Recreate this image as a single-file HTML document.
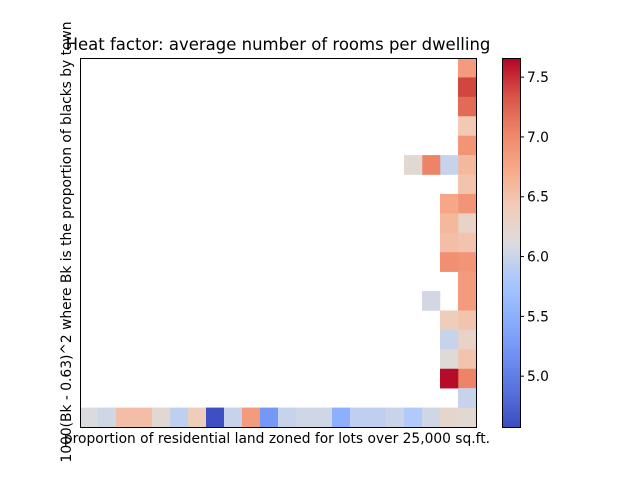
<!DOCTYPE html>
<html><head><meta charset="utf-8"><style>
body{margin:0;background:#fff;}
svg text{font-family:"DejaVu Sans","Liberation Sans",sans-serif;fill:#000;}
</style></head><body>
<svg id="chart" width="640" height="480" xmlns="http://www.w3.org/2000/svg">
<rect width="640" height="480" fill="#fff"/>
<g id="cells"></g>
<rect x="80.5" y="58.5" width="396" height="369" fill="none" stroke="#000" stroke-width="1"/>
<text x="278" y="50" font-size="16.5" text-anchor="middle">Heat factor: average number of rooms per dwelling</text>
<text x="277" y="443" font-size="13.8" text-anchor="middle">proportion of residential land zoned for lots over 25,000 sq.ft.</text>
<text transform="translate(71,242) rotate(-90)" font-size="13.8" text-anchor="middle">1000(Bk - 0.63)^2 where Bk is the proportion of blacks by town</text>
<defs><linearGradient id="cbgrad" x1="0" y1="1" x2="0" y2="0"></linearGradient></defs>
<rect x="502.5" y="58.5" width="18" height="369" fill="url(#cbgrad)" stroke="#000" stroke-width="1"/>
<g id="cbticks"></g>
</svg>
<script>
// data: [row (from top), column, value]
const cellRows = [18,18,18,18,18,18,18,18,18,18,18,18,18,18,18,18,18,18,18,18,18,18,
 0,1,2,3,4,5,6,7,8,9,10,11,12,13,14,15,16,17,
 5,7,8,9,10,13,14,15,16,
 5,12,
 5];
const cellCols = [0,1,2,3,4,5,6,7,8,9,10,11,12,13,14,15,16,17,18,19,20,21,
 21,21,21,21,21,21,21,21,21,21,21,21,21,21,21,21,21,21,
 20,20,20,20,20,20,20,20,20,
 19,19,
 18];
const cellValues = [6.1,6.03,6.55,6.55,6.2,5.93,6.4,4.6,5.98,6.85,5.25,5.98,6.03,6.03,5.5,5.93,5.93,6.0,5.85,6.03,6.25,6.2,
 6.85,7.4,7.2,6.45,6.9,6.6,6.5,6.9,6.3,6.5,6.9,6.85,6.85,6.5,6.3,6.5,7.05,5.98,
 5.98,6.75,6.6,6.55,6.95,6.4,5.98,6.15,7.63,
 7.05,6.05,
 6.2];
const cbTicks = [5.0,5.5,6.0,6.5,7.0,7.5];
const vmin = 4.575, vmax = 7.66;
const nRows = 19, nCols = 22;

const anchors=[[59,76,192],[85,114,223],[111,146,243],[140,176,254],[170,199,253],[221,220,220],[241,204,184],[247,169,137],[238,132,104],[215,83,69],[180,4,38]];
function cmap(t){t=Math.max(0,Math.min(1,t));const f=t*10,i=Math.min(9,Math.floor(f)),u=f-i;
 const a=anchors[i],b=anchors[i+1];return 'rgb('+a.map((v,k)=>Math.round(v+(b[k]-v)*u)).join(',')+')';}
const X0=80,X1=476,Y0=58,Y1=427;
const cw=(X1-X0)/nCols, ch=(Y1-Y0)/nRows;
const xScale=c=>X0+c*cw, yScale=r=>Y0+r*ch;
const NS='http://www.w3.org/2000/svg';
const g=document.getElementById('cells');
for(let i=0;i<cellValues.length;i++){
 const r=document.createElementNS(NS,'rect');
 r.setAttribute('x',xScale(cellCols[i]));r.setAttribute('y',yScale(cellRows[i]));
 r.setAttribute('width',cw+0.3);r.setAttribute('height',ch+0.3);
 r.setAttribute('fill',cmap((cellValues[i]-vmin)/(vmax-vmin)));
 
 
 g.appendChild(r);
}
const grad=document.getElementById('cbgrad');
for(let k=0;k<=20;k++){const s=document.createElementNS(NS,'stop');s.setAttribute('offset',k/20);s.setAttribute('stop-color',cmap(k/20));grad.appendChild(s);}
const cbY=v=>Y1-(v-vmin)/(vmax-vmin)*(Y1-Y0);
const tg=document.getElementById('cbticks');
cbTicks.forEach(v=>{const y=cbY(v);
 const l=document.createElementNS(NS,'line');l.setAttribute('x1',520.5);l.setAttribute('x2',524);l.setAttribute('y1',y);l.setAttribute('y2',y);l.setAttribute('stroke','#000');
 
 
 tg.appendChild(l);
 const t=document.createElementNS(NS,'text');t.setAttribute('x',527);t.setAttribute('y',y+5);t.setAttribute('font-size','13.8');t.textContent=v.toFixed(1);
 
 
 tg.appendChild(t);
});
</script>
</body></html>
